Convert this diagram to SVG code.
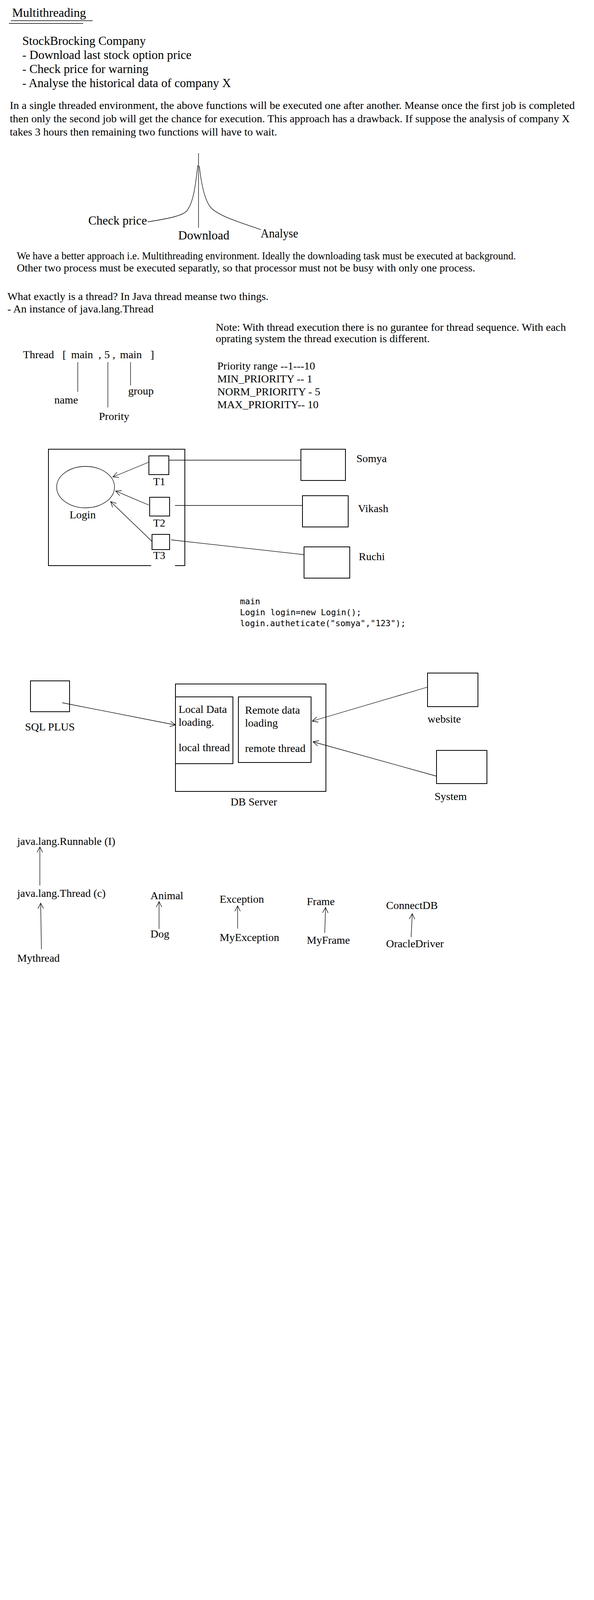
<svg xmlns="http://www.w3.org/2000/svg" width="1520" height="5414" viewBox="0 0 1520 5414">
<defs>
<style>
text{font-family:"Liberation Serif","Times New Roman",serif;font-size:28px;fill:#000}
.l{font-size:31px}
.m{font-family:"DejaVu Sans Mono","Liberation Mono",monospace;font-size:21.5px}
.ln{stroke:#000;stroke-width:1.3;fill:none}
.bx{fill:none;stroke:#000;stroke-width:2}
.ar{stroke:#000;stroke-width:1.3;fill:none;marker-end:url(#open)}
</style>
<marker id="open" viewBox="0 0 16 16" refX="15" refY="8" markerWidth="16" markerHeight="16" markerUnits="userSpaceOnUse" orient="auto">
<path d="M1,1 L15,8 L1,15" fill="none" stroke="#000" stroke-width="1.3"/>
</marker>
</defs>
<rect width="1520" height="5414" fill="#fff"/>

<g id="title">
<text x="31" y="43" class="l" textLength="189" lengthAdjust="spacingAndGlyphs">Multithreading</text>
<line x1="28" y1="53" x2="237" y2="53" class="ln"/>
<line x1="23" y1="60" x2="213" y2="60" class="ln"/>
</g>

<g id="company">
<text x="57" y="115" class="l" textLength="316" lengthAdjust="spacingAndGlyphs">StockBrocking Company</text>
<text x="57" y="151" class="l" textLength="433" lengthAdjust="spacingAndGlyphs">- Download last stock option price</text>
<text x="57" y="187" class="l" textLength="323" lengthAdjust="spacingAndGlyphs">- Check price for warning</text>
<text x="57" y="223" class="l" textLength="534" lengthAdjust="spacingAndGlyphs">- Analyse the historical data of company X</text>
</g>

<g id="para-single">
<text x="25" y="279" textLength="1446" lengthAdjust="spacingAndGlyphs">In a single threaded environment, the above functions will be executed one after another. Meanse once the first job is completed</text>
<text x="25" y="313" textLength="1433" lengthAdjust="spacingAndGlyphs">then only the second job will get the chance for execution. This approach has a drawback. If suppose the analysis of company X</text>
<text x="25" y="347" textLength="684" lengthAdjust="spacingAndGlyphs">takes 3 hours then remaining two functions will have to wait.</text>
</g>

<g id="fork">
<text x="226" y="575" class="l" textLength="150" lengthAdjust="spacingAndGlyphs">Check price</text>
<text x="456" y="613" class="l" textLength="131" lengthAdjust="spacingAndGlyphs">Download</text>
<text x="667" y="608" class="l" textLength="96" lengthAdjust="spacingAndGlyphs">Analyse</text>
</g>

<g id="para-multi">
<text x="43" y="664" textLength="1277" lengthAdjust="spacingAndGlyphs">We have a better approach i.e. Multithreading environment. Ideally the downloading task must be executed at background.</text>
<text x="43" y="695" textLength="1173" lengthAdjust="spacingAndGlyphs">Other two process must be executed separatly, so that processor must not be busy with only one process.</text>
</g>

<g id="what-thread">
<text x="19" y="768" textLength="668" lengthAdjust="spacingAndGlyphs">What exactly is a thread? In Java thread meanse two things.</text>
<text x="19" y="800" textLength="374" lengthAdjust="spacingAndGlyphs">- An instance of java.lang.Thread</text>
</g>

<g id="thread-signature">
<text x="59" y="917">Thread</text>
<text x="160" y="917">[</text>
<text x="182" y="917">main</text>
<text x="252" y="917">,</text>
<text x="267" y="917">5</text>
<text x="288" y="917">,</text>
<text x="307" y="917">main</text>
<text x="385" y="917">]</text>
<text x="139" y="1033">name</text>
<text x="253" y="1075">Prority</text>
<text x="328" y="1010">group</text>
</g>

<g id="note">
<text x="552" y="847">Note: With thread execution there is no gurantee for thread sequence. With each</text>
<text x="552" y="876">oprating system the thread execution is different.</text>
<text x="556" y="946">Priority range  --1---10</text>
<text x="556" y="979">MIN_PRIORITY -- 1</text>
<text x="556" y="1012">NORM_PRIORITY - 5</text>
<text x="556" y="1045">MAX_PRIORITY-- 10</text>
</g>

<g id="login-box">
<path d="M387,1448 H124 V1150 H473 V1448 H448" class="bx"/>
<ellipse cx="219" cy="1247" rx="74" ry="53" class="ln"/>
<text x="178" y="1327">Login</text>
</g>
<g id="t1"><rect x="381" y="1167" width="51" height="48" class="bx"/><text x="392" y="1242">T1</text></g>
<g id="t2"><rect x="383" y="1273" width="51" height="48" class="bx"/><text x="392" y="1348">T2</text></g>
<g id="t3"><rect x="389" y="1368" width="45" height="39" class="bx"/><text x="392" y="1431">T3</text></g>
<g id="somya"><rect x="770" y="1150" width="114" height="80" class="bx"/><text x="912" y="1183">Somya</text></g>
<g id="vikash"><rect x="774" y="1269" width="117" height="80" class="bx"/><text x="916" y="1311">Vikash</text></g>
<g id="ruchi"><rect x="778" y="1400" width="117" height="80" class="bx"/><text x="918" y="1434">Ruchi</text></g>

<g id="code">
<text x="614" y="1547" class="m">main</text>
<text x="614" y="1575" class="m">Login login=new Login();</text>
<text x="614" y="1603" class="m" textLength="424" lengthAdjust="spacingAndGlyphs">login.autheticate("somya","123");</text>
</g>

<g id="sqlplus"><rect x="78" y="1743" width="100" height="79" class="bx"/><text x="64" y="1870">SQL PLUS</text></g>
<g id="dbserver">
<rect x="449" y="1751" width="385" height="275" class="bx"/>
<text x="590" y="2062">DB Server</text>
</g>
<g id="local-thread">
<rect x="449" y="1784" width="147" height="171" class="bx"/>
<text x="457" y="1825">Local Data</text>
<text x="457" y="1858">loading.</text>
<text x="457" y="1923">local thread</text>
</g>
<g id="remote-thread">
<rect x="610" y="1784" width="186" height="168" class="bx"/>
<text x="627" y="1827">Remote data</text>
<text x="627" y="1860">loading</text>
<text x="627" y="1925">remote thread</text>
</g>
<g id="website"><rect x="1094" y="1723" width="129" height="86" class="bx"/><text x="1094" y="1850">website</text></g>
<g id="system"><rect x="1117" y="1921" width="129" height="85" class="bx"/><text x="1112" y="2048">System</text></g>

<g id="runnable"><text x="44" y="2163">java.lang.Runnable (I)</text></g>
<g id="thread-class"><text x="44" y="2296">java.lang.Thread (c)</text></g>
<g id="mythread"><text x="44" y="2462">Mythread</text></g>
<g id="animal"><text x="385" y="2302">Animal</text></g>
<g id="dog"><text x="385" y="2400">Dog</text></g>
<g id="exception"><text x="562" y="2311">Exception</text></g>
<g id="myexception"><text x="562" y="2409">MyException</text></g>
<g id="frame"><text x="785" y="2317">Frame</text></g>
<g id="myframe"><text x="785" y="2416">MyFrame</text></g>
<g id="connectdb"><text x="988" y="2327">ConnectDB</text></g>
<g id="oracledriver"><text x="988" y="2425">OracleDriver</text></g>

<g id="connectors">
<line x1="508" y1="392" x2="508" y2="583" class="ln"/>
<path d="M506,423 C500,480 494,520 478,540 C466,552 440,558 378,568" class="ln"/>
<path d="M510,425 C516,480 525,515 540,532 C560,552 600,565 668,588" class="ln"/>
<line x1="199" y1="927" x2="199" y2="1003" class="ln"/>
<line x1="276" y1="927" x2="276" y2="1043" class="ln"/>
<line x1="334" y1="927" x2="334" y2="987" class="ln"/>
<line x1="381" y1="1183" x2="289" y2="1221" class="ar"/>
<line x1="381" y1="1293" x2="296" y2="1257" class="ar"/>
<line x1="390" y1="1387" x2="283" y2="1284" class="ar"/>
<line x1="432" y1="1178" x2="770" y2="1178" class="ln"/>
<line x1="448" y1="1294" x2="774" y2="1294" class="ln"/>
<line x1="438" y1="1382" x2="778" y2="1420" class="ln"/>
<line x1="159" y1="1799" x2="449" y2="1856" class="ar"/>
<line x1="1094" y1="1759" x2="799" y2="1846" class="ar"/>
<line x1="1117" y1="1987" x2="801" y2="1899" class="ar"/>
<line x1="102" y1="2267" x2="102" y2="2168" class="ar"/>
<line x1="106" y1="2430" x2="104" y2="2312" class="ar"/>
<line x1="407" y1="2378" x2="407" y2="2308" class="ar"/>
<line x1="608" y1="2377" x2="608" y2="2319" class="ar"/>
<line x1="831" y1="2388" x2="833" y2="2323" class="ar"/>
<line x1="1052" y1="2399" x2="1055" y2="2339" class="ar"/>
</g>
</svg>
